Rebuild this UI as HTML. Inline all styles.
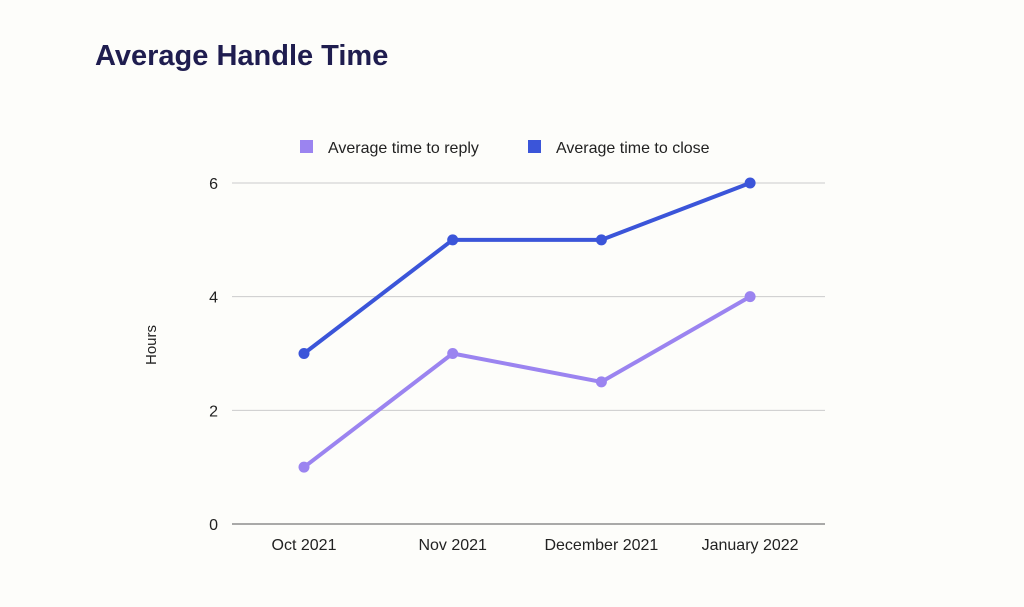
<!DOCTYPE html>
<html><head><meta charset="utf-8"><style>
body{margin:0;background:#fdfdfa;width:1024px;height:602px;overflow:hidden;font-family:"Liberation Sans",sans-serif}
</style></head><body>
<svg width="1024" height="602">
<rect width="1024" height="602" fill="#fdfdfa"/>
<text x="95" y="65" font-size="29" font-weight="bold" fill="#1f1d4f">Average Handle Time</text>
<g>
<rect x="300" y="140" width="13" height="13" fill="#9b84f0"/>
<text x="328" y="153" font-size="16" fill="#222">Average time to reply</text>
<rect x="528" y="140" width="13" height="13" fill="#3b55d9"/>
<text x="556" y="153" font-size="16" fill="#222">Average time to close</text>
</g>
<text transform="translate(156,345) rotate(-90)" text-anchor="middle" font-size="15" fill="#222">Hours</text>
<g id="plot"></g>
</svg>
<script>
const categories=["Oct 2021","Nov 2021","December 2021","January 2022"];
const replyValues=[1,3,2.5,4];
const closeValues=[3,5,5,6];
const yTicks=[0,2,4,6];
const NS="http://www.w3.org/2000/svg";
const g=document.getElementById('plot');
const x0=232,x1=825,y0=524,yTop=183,yMax=6;
const xs=i=>304+i*148.7;
const ys=v=>y0-(v/yMax)*(y0-yTop);
function mk(t,a){const e=document.createElementNS(NS,t);for(const k in a)e.setAttribute(k,a[k]);g.appendChild(e);return e;}
yTicks.forEach(v=>{
 const l=mk('line',{x1:x0,x2:x1,y1:ys(v),y2:ys(v),stroke:v===0?'#555':'#ccc','stroke-width':1});
 
 
 const t=mk('text',{x:218,y:ys(v)+6,'text-anchor':'end','font-size':16,fill:'#222'});t.textContent=v;
 
 
});
categories.forEach((c,i)=>{
 const t=mk('text',{x:xs(i),y:550,'text-anchor':'middle','font-size':16,fill:'#222'});t.textContent=c;
 
 
});
function series(vals,color,name){
 const p=mk('polyline',{points:vals.map((v,i)=>xs(i)+','+ys(v)).join(' '),fill:'none',stroke:color,'stroke-width':4,'stroke-linejoin':'round'});
 
 
 vals.forEach((v,i)=>{
  const c=mk('circle',{cx:xs(i),cy:ys(v),r:5.5,fill:color});
  
  
 });
}
series(replyValues,'#9b84f0','reply');
series(closeValues,'#3b55d9','close');
</script>
</body></html>
